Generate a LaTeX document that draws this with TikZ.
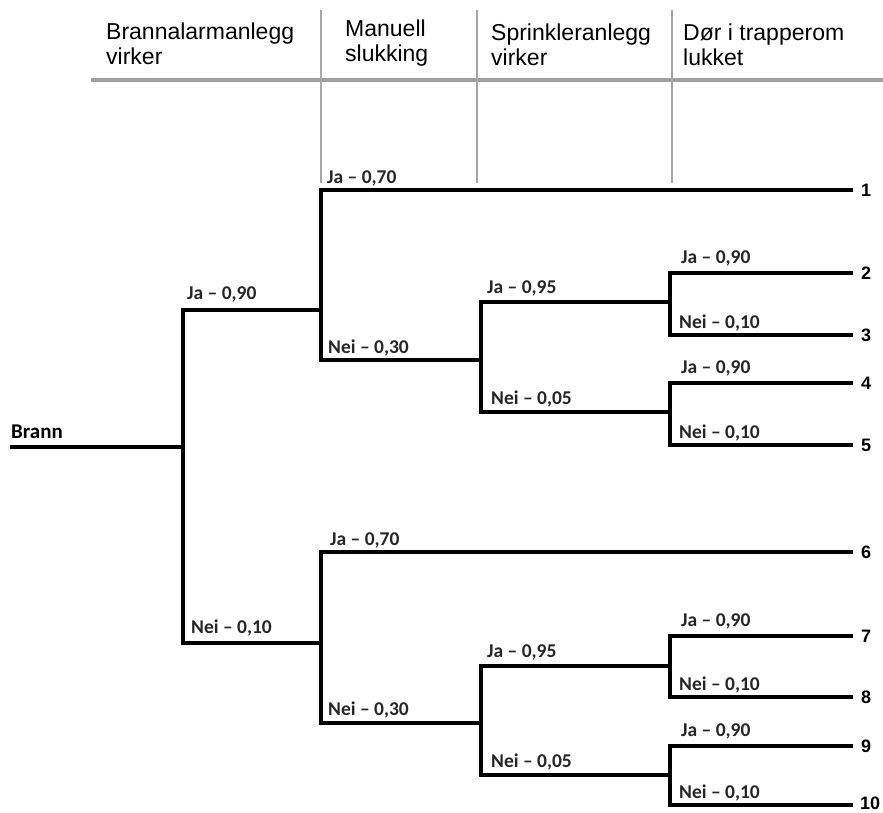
\documentclass[tikz,border=0pt]{standalone}
\usepackage{fontspec}
\setmainfont{Liberation Sans}
\newfontfamily\labelfont{Carlito}
\usetikzlibrary{positioning, calc}

\begin{document}
\begin{tikzpicture}[x=1pt, y=-1pt,
    branch/.style={line width=3.6pt, black},
    grid/.style={line width=2.5pt, gray!70},
    head/.style={font=\fontsize{23}{25}\selectfont, anchor=north west, inner sep=0pt, align=left},
    prob/.style={font=\labelfont\bfseries\fontsize{19.5}{20}\selectfont, text=black!85, anchor=base west, inner sep=0pt},
    outcome/.style={font=\bfseries\fontsize{18}{18}\selectfont, inner sep=0pt}]
    \useasboundingbox (0,0) rectangle (883,812);

    % Column headings
    \draw[grid, line width=4.5pt, gray!75] (91,80) -- (883,80);
    \draw[grid] (321,10) -- (321,183);
    \draw[grid] (477,10) -- (477,183);
    \draw[grid] (672,10) -- (672,183);

    \node[head] (h1) at (106,23) {Brannalarmanlegg\\virker};
    \node[head] (h2) at (345,20) {Manuell\\slukking};
    \node[head] (h3) at (491,24) {Sprinkleranlegg\\virker};
    \node[head] (h4) at (683,24) {Dør i trapperom\\lukket};

    % Branch points
    \coordinate (start) at (10,447);
    \coordinate (b0) at (183,447);
    \coordinate (m1) at (321,310);
    \coordinate (m2) at (321,643);
    \coordinate (s1) at (481,360);
    \coordinate (s2) at (481,723);
    \coordinate (d1) at (670,302);
    \coordinate (d2) at (670,412);
    \coordinate (d3) at (670,666);
    \coordinate (d4) at (670,775);

    % Outcomes
    \coordinate (e1) at (853,190);
    \coordinate (e2) at (853,273);
    \coordinate (e3) at (853,335);
    \coordinate (e4) at (853,383);
    \coordinate (e5) at (853,445);
    \coordinate (e6) at (853,552);
    \coordinate (e7) at (853,636);
    \coordinate (e8) at (853,697);
    \coordinate (e9) at (853,746);
    \coordinate (e10) at (853,805);

    \node[outcome, right=8pt of e1] (o1) {1};
    \node[outcome, right=8pt of e2] (o2) {2};
    \node[outcome, right=8pt of e3] (o3) {3};
    \node[outcome, right=8pt of e4] (o4) {4};
    \node[outcome, right=8pt of e5] (o5) {5};
    \node[outcome, right=8pt of e6] (o6) {6};
    \node[outcome, right=8pt of e7] (o7) {7};
    \node[outcome, right=8pt of e8] (o8) {8};
    \node[outcome, right=8pt of e9] (o9) {9};
    \node[outcome, right=7pt of e10, yshift=2pt] (o10) {10};

    % Tree
    \draw[branch] (start) -- (b0);
    \draw[branch] (m1) -| (b0) |- (m2);
    \draw[branch] (e1) -| (m1) |- (s1);
    \draw[branch] (d1) -| (s1) |- (d2);
    \draw[branch] (e2) -| (d1) |- (e3);
    \draw[branch] (e4) -| (d2) |- (e5);
    \draw[branch] (e6) -| (m2) |- (s2);
    \draw[branch] (d3) -| (s2) |- (d4);
    \draw[branch] (e7) -| (d3) |- (e8);
    \draw[branch] (e9) -| (d4) |- (e10);

    \node[prob, font=\labelfont\bfseries\fontsize{21}{21}\selectfont, text=black] (brann) at (11,438) {Brann};

    % Probabilities
    \node[prob] (pb1) at ($(b0 |- m1)+(4,-11)$) {Ja – 0,90};
    \node[prob] (pb2) at ($(b0 |- m2)+(8,-10)$) {Nei – 0,10};
    \node[prob] (pm1) at ($(m1 |- e1)+(6,-7)$) {Ja – 0,70};
    \node[prob] (pm2) at ($(m1 |- s1)+(7,-7)$) {Nei – 0,30};
    \node[prob] (pm3) at ($(m2 |- e6)+(9,-7)$) {Ja – 0,70};
    \node[prob] (pm4) at ($(m2 |- s2)+(7,-8)$) {Nei – 0,30};
    \node[prob] (ps1) at ($(s1 |- d1)+(6,-9)$) {Ja – 0,95};
    \node[prob] (ps2) at ($(s1 |- d2)+(10,-8)$) {Nei – 0,05};
    \node[prob] (ps3) at ($(s2 |- d3)+(6,-9)$) {Ja – 0,95};
    \node[prob] (ps4) at ($(s2 |- d4)+(10,-8)$) {Nei – 0,05};
    \node[prob] (pd1) at ($(d1 |- e2)+(11,-10)$) {Ja – 0,90};
    \node[prob] (pd2) at ($(d1 |- e3)+(9,-7)$) {Nei – 0,10};
    \node[prob] (pd3) at ($(d2 |- e4)+(11,-10)$) {Ja – 0,90};
    \node[prob] (pd4) at ($(d2 |- e5)+(9,-7)$) {Nei – 0,10};
    \node[prob] (pd5) at ($(d3 |- e7)+(11,-10)$) {Ja – 0,90};
    \node[prob] (pd6) at ($(d3 |- e8)+(9,-7)$) {Nei – 0,10};
    \node[prob] (pd7) at ($(d4 |- e9)+(11,-10)$) {Ja – 0,90};
    \node[prob] (pd8) at ($(d4 |- e10)+(9,-7)$) {Nei – 0,10};
\end{tikzpicture}
\end{document}
